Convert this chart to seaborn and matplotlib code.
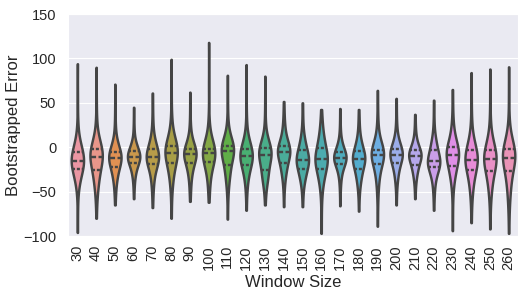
import numpy as np
import pandas as pd
import matplotlib
matplotlib.use("Agg")
import matplotlib.pyplot as plt
import seaborn as sns

# ---------- data: bootstrapped errors per window size ----------
window_sizes = ['30', '40', '50', '60', '70', '80', '90', '100', '110', '120',
                '130', '140', '150', '160', '170', '180', '190', '200', '210',
                '220', '230', '240', '250', '260']

# representative error levels per window (sorted), and how often each occurs
reps = [1, 1, 2, 3, 6, 8, 24, 8, 6, 3, 2, 1, 1]

w30 = [-96, -70, -50, -38, -32, -25, -15, -5, 1, 8, 25, 55, 94]
w40 = [-80, -65, -55, -45, -35, -26, -11, -1.5, 5, 12, 30, 55, 90]
w50 = [-65, -55, -47, -38, -30, -22, -12, -5, 2, 9, 25, 45, 71]
w60 = [-58, -48, -40, -32, -25, -18, -11, -4, 1, 6, 18, 30, 45]
w70 = [-68, -57, -47, -38, -28, -19, -11, -2, 5, 13, 28, 45, 61]
w80 = [-80, -62, -48, -38, -28, -18, -6, 1.5, 9, 18, 35, 65, 99]
w90 = [-61, -52, -45, -35, -26, -18, -8, -2, 5, 12, 25, 42, 62]
w100 = [-62, -54, -46, -36, -26, -17, -7, -1.5, 6, 14, 30, 70, 118]
w110 = [-81, -62, -48, -38, -29, -19.5, -4.5, 1.5, 7, 14, 30, 55, 81]
w120 = [-71, -57, -46, -37, -28, -19.5, -10, -2, 5, 12, 30, 60, 93]
w130 = [-65, -55, -46, -38, -32, -26, -9, -1, 5, 11, 28, 50, 80]
w140 = [-67, -52, -42, -33, -25, -17.5, -5.3, 1.5, 10, 20, 30, 42, 51.5]
w150 = [-67, -55, -46, -38, -31, -25, -14, -3.4, 4, 11, 22, 36, 50]
w160 = [-97, -75, -55, -42, -33, -25, -13, -0.4, 8, 18, 26, 35, 42.5]
w170 = [-66, -52, -42, -33, -25, -18.4, -11.6, -5.3, 1, 7, 18, 30, 43.6]
w180 = [-72, -58, -48, -40, -32, -24, -13, -4, 3, 11, 22, 33, 42.5]
w190 = [-89, -68, -52, -40, -29, -19, -8.3, -2.6, 5, 14, 28, 46, 64]
w200 = [-65, -52, -42, -34, -26, -17.7, -8.3, -1.5, 5, 13, 25, 40, 55]
w210 = [-58, -48, -40, -33, -26, -19.5, -9.8, -3.4, 2, 9, 18, 28, 37]
w220 = [-71, -58, -48, -39, -30, -22, -15.8, -3.4, 3, 10, 22, 38, 53]
w230 = [-94, -70, -50, -37, -29, -21, -8.3, 0.4, 8, 18, 30, 48, 65]
w240 = [-85, -68, -56, -46, -36, -26, -14, -3.4, 4, 12, 30, 55, 84]
w250 = [-92, -72, -58, -47, -37, -26.7, -13.5, -3.4, 4, 12, 30, 58, 88]
w260 = [-97, -78, -64, -52, -39, -26.7, -11.6, -1.5, 5, 12, 30, 60, 90.5]

errors = [w30, w40, w50, w60, w70, w80, w90, w100, w110, w120, w130, w140,
          w150, w160, w170, w180, w190, w200, w210, w220, w230, w240, w250,
          w260]

frames = []
for ws, vals in zip(window_sizes, errors):
    frames.append(pd.DataFrame({
        'Window Size': ws,
        'Bootstrapped Error': np.repeat(vals, reps),
    }))
df = pd.concat(frames, ignore_index=True)

# ---------- plot ----------
sns.set_style('darkgrid')
plt.rcParams['font.family'] = ['Liberation Sans', 'DejaVu Sans']

fig = plt.figure(figsize=(5.21, 2.96), dpi=100)
ax = fig.add_axes([68 / 521, 60 / 296, 450 / 521, 222 / 296])

sns.violinplot(
    data=df, x='Window Size', y='Bootstrapped Error', hue='Window Size',
    order=window_sizes, hue_order=window_sizes,
    palette=sns.husl_palette(len(window_sizes), l=.7), legend=False,
    inner='quart', cut=0, bw_method=0.5, density_norm='width', width=0.66,
    linewidth=1.75, linecolor='.27', ax=ax
)

ax.set_ylim(-100, 150)
ax.set_yticks([-100, -50, 0, 50, 100, 150])
ax.set_xlabel('Window Size', fontsize=12)
ax.set_ylabel('Bootstrapped Error', fontsize=12, labelpad=1.5)
ax.tick_params(axis='y', labelsize=10.5, pad=5)
ax.tick_params(axis='x', labelsize=10.5, rotation=90, pad=3)

fig.savefig('out.png', dpi=100)
